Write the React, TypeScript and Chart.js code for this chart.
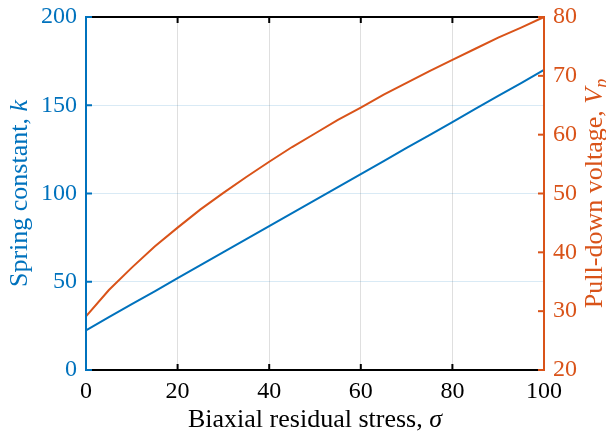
import React, { useEffect, useRef } from "react";
import { Chart, registerables } from "chart.js";

Chart.register(...registerables);

// ---- data ----
const stress = [0, 5, 10, 15, 20, 25, 30, 35, 40, 45, 50, 55, 60, 65, 70, 75, 80, 85, 90, 95, 100];
const springK = [22.5, 29.9, 37.3, 44.6, 52.0, 59.4, 66.8, 74.1, 81.5, 88.9, 96.3, 103.6, 111.0, 118.4, 125.8, 133.1, 140.5, 147.9, 155.3, 162.6, 170.0];
const pullV = [29.1, 33.6, 37.4, 41.0, 44.2, 47.3, 50.1, 52.8, 55.4, 57.9, 60.2, 62.5, 64.6, 66.8, 68.8, 70.8, 72.7, 74.6, 76.5, 78.2, 80.0];

const xTicks = [0, 20, 40, 60, 80, 100];
const leftTicks = [0, 50, 100, 150, 200];
const rightTicks = [20, 30, 40, 50, 60, 70, 80];

const xTitle = "Biaxial residual stress, ";
const xTitleVar = "σ";
const leftTitle = "Spring constant, ";
const leftTitleVar = "k";
const rightTitle = "Pull-down voltage, ";
const rightTitleVar = "V";
const rightTitleSub = "p";

const BLUE = "#0072BD";
const ORANGE = "#D95319";
const BLACK = "#000000";
const FAMILY = "'Liberation Serif', 'Times New Roman', serif";
const TICK_FONT = `24px ${FAMILY}`;
const TITLE_SIZE = 26;

type Part = { text: string; font: string; dy?: number };

function drawParts(ctx: CanvasRenderingContext2D, parts: Part[], x: number, y: number, rot: number, color: string) {
  ctx.save();
  ctx.translate(x, y);
  ctx.rotate(rot);
  ctx.fillStyle = color;
  ctx.textBaseline = "alphabetic";
  ctx.textAlign = "left";
  let total = 0;
  const widths = parts.map((p) => {
    ctx.font = p.font;
    const w = ctx.measureText(p.text).width;
    total += w;
    return w;
  });
  let cx = -total / 2;
  parts.forEach((p, i) => {
    ctx.font = p.font;
    ctx.fillText(p.text, cx, p.dy || 0);
    cx += widths[i];
  });
  ctx.restore();
}

const axesPlugin = {
  id: "matlabAxes",
  afterDatasetsDraw(chart: any) {
    const { ctx, chartArea, scales } = chart;
    const { left, right, top, bottom } = chartArea;
    const sx = scales.x;
    const sl = scales.yL;
    const sr = scales.yR;
    const TL = 6;
    const line = (x1: number, y1: number, x2: number, y2: number) => {
      ctx.beginPath();
      ctx.moveTo(x1, y1);
      ctx.lineTo(x2, y2);
      ctx.stroke();
    };
    ctx.save();
    ctx.lineWidth = 2;
    ctx.lineCap = "butt";

    // bottom and top (black)
    ctx.strokeStyle = BLACK;
    line(left, bottom, right, bottom);
    line(left, top, right, top);
    for (const t of xTicks) {
      const px = sx.getPixelForValue(t);
      line(px, bottom, px, bottom - TL);
      line(px, top, px, top + TL);
    }
    // left (blue)
    ctx.strokeStyle = BLUE;
    line(left, top - 1, left, bottom + 1);
    for (const t of leftTicks) {
      const py = sl.getPixelForValue(t);
      line(left, py, left + TL, py);
    }
    // right (orange)
    ctx.strokeStyle = ORANGE;
    line(right, top - 1, right, bottom + 1);
    for (const t of rightTicks) {
      const py = sr.getPixelForValue(t);
      line(right, py, right - TL, py);
    }

    // tick labels
    ctx.font = TICK_FONT;
    ctx.fillStyle = BLACK;
    ctx.textAlign = "center";
    ctx.textBaseline = "alphabetic";
    for (const t of xTicks) {
      ctx.fillText(String(t), sx.getPixelForValue(t), bottom + 28);
    }
    ctx.fillStyle = BLUE;
    ctx.textAlign = "right";
    ctx.textBaseline = "middle";
    for (const t of leftTicks) {
      ctx.fillText(String(t), left - 9, sl.getPixelForValue(t));
    }
    ctx.fillStyle = ORANGE;
    ctx.textAlign = "left";
    for (const t of rightTicks) {
      ctx.fillText(String(t), right + 9, sr.getPixelForValue(t));
    }

    // titles
    const roman = `${TITLE_SIZE}px ${FAMILY}`;
    const ital = `italic ${TITLE_SIZE}px ${FAMILY}`;
    const sub = `italic ${Math.round(TITLE_SIZE * 0.7)}px ${FAMILY}`;
    const midY = (top + bottom) / 2;
    drawParts(ctx, [{ text: xTitle, font: roman }, { text: xTitleVar, font: ital }], (left + right) / 2, bottom + 57, 0, BLACK);
    drawParts(ctx, [{ text: leftTitle, font: roman }, { text: leftTitleVar, font: ital }], 27, midY, -Math.PI / 2, BLUE);
    drawParts(
      ctx,
      [
        { text: rightTitle, font: roman },
        { text: rightTitleVar, font: ital },
        { text: rightTitleSub, font: sub, dy: 5 },
      ],
      602,
      midY,
      -Math.PI / 2,
      ORANGE
    );
    ctx.restore();
  },
};

export default function App() {
  const ref = useRef<HTMLCanvasElement | null>(null);
  useEffect(() => {
    if (!ref.current) return;
    const chart = new Chart(ref.current, {
      type: "line",
      data: {
        datasets: [
          {
            label: "k",
            data: stress.map((s, i) => ({ x: s, y: springK[i] })),
            borderColor: BLUE,
            borderWidth: 2,
            pointRadius: 0,
            tension: 0,
            yAxisID: "yL",
            clip: 3,
          } as any,
          {
            label: "Vp",
            data: stress.map((s, i) => ({ x: s, y: pullV[i] })),
            borderColor: ORANGE,
            borderWidth: 2,
            pointRadius: 0,
            tension: 0,
            yAxisID: "yR",
            clip: 3,
          } as any,
        ],
      },
      options: {
        responsive: false,
        animation: false,
        layout: { padding: { top: 17, left: 0, right: 0, bottom: 0 } },
        plugins: { legend: { display: false }, tooltip: { enabled: false }, title: { display: false } },
        scales: {
          x: {
            type: "linear",
            position: "bottom",
            min: 0,
            max: 100,
            ticks: { display: false, stepSize: 20 },
            grid: { color: "rgba(38,38,38,0.15)", lineWidth: 1, drawTicks: false },
            border: { display: false },
            afterFit: (s: any) => {
              s.height = 65;
            },
          },
          yL: {
            type: "linear",
            position: "left",
            min: 0,
            max: 200,
            ticks: { display: false, stepSize: 50 },
            grid: { color: "rgba(0,114,189,0.15)", lineWidth: 1, drawTicks: false },
            border: { display: false },
            afterFit: (s: any) => {
              s.width = 86;
            },
          },
          yR: {
            type: "linear",
            position: "right",
            min: 20,
            max: 80,
            ticks: { display: false, stepSize: 10 },
            grid: { display: false, drawTicks: false },
            border: { display: false },
            afterFit: (s: any) => {
              s.width = 62;
            },
          },
        },
      } as any,
      plugins: [axesPlugin],
    });
    return () => chart.destroy();
  }, []);
  return (
    <div style={{ position: "fixed", left: 0, top: 0, width: 606, height: 435, background: "#fff" }}>
      <canvas ref={ref} width={606} height={435} style={{ display: "block" }} />
    </div>
  );
}
